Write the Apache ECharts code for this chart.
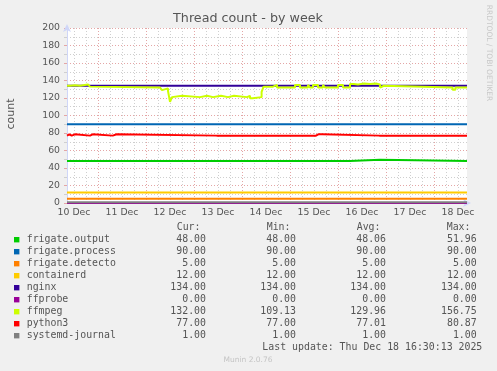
<!DOCTYPE html>
<html><head><meta charset="utf-8">
<script src="https://cdn.jsdelivr.net/npm/echarts@6/dist/echarts.min.js"></script>
<style>html,body{margin:0;padding:0;background:#F0F0F0;overflow:hidden}#c{width:497px;height:371px}</style>
</head><body><div id="c"></div>
<script>
// x values are hours since 10 Dec 00:00
const xMin = 8.5, xMax = 208.5;
const xTickHours = [12, 36, 60, 84, 108, 132, 156, 180, 204];
const xTickLabels = ['10 Dec', '11 Dec', '12 Dec', '13 Dec', '14 Dec', '15 Dec', '16 Dec', '17 Dec', '18 Dec'];

const seriesNames = ['frigate.output', 'frigate.process', 'frigate.detecto', 'containerd', 'nginx', 'ffprobe', 'ffmpeg', 'python3', 'systemd-journal'];
const seriesColors = ['#00CC00', '#0066B3', '#FF8000', '#FFCC00', '#330099', '#990099', '#CCFF00', '#FF0000', '#808080'];

// each pair: [hour where the value starts, value]
const frigateOutput = [[8.5, 48], [12.5, 49.5], [13.5, 48], [15.5, 49.5], [16.5, 48], [150, 49.5], [165, 48], [208.5, 48]];
const frigateProcess = [[8.5, 90], [208.5, 90]];
const frigateDetecto = [[8.5, 5], [208.5, 5]];
const containerd = [[8.5, 12], [208.5, 12]];
const nginx = [[8.5, 134], [208.5, 134]];
const ffprobe = [[8.5, 0], [208.5, 0]];
const ffmpeg = [[8.5, 134], [10, 133.5], [11, 134.5], [12.5, 136.5], [13.5, 134], [15, 135.5], [19, 134], [20, 133], [21, 132],
  [55, 131], [56, 129], [57, 131], [59, 128], [60, 115.5], [61, 121], [62, 122.5], [66, 121], [75, 122.5], [78.5, 121],
  [81.5, 122.5], [85.5, 121], [89, 122.5], [92, 121], [98.5, 122.5], [100, 119.8], [101.3, 121], [105.8, 127], [106.8, 133],
  [111.5, 135], [113.5, 132], [122.5, 135], [125, 132], [129, 135], [130, 132], [131.5, 135], [134, 132], [136.5, 135], [137.5, 132],
  [144, 135], [146.5, 132], [150, 136], [152, 135.5], [154, 136.5], [157, 136], [160, 136.5], [163, 135.5], [165, 132],
  [166, 134], [167, 132], [201.3, 129.5], [202.7, 132], [208.5, 132]];
const python3 = [[8.5, 77], [8.85, 78.5], [9.65, 77], [10.85, 78.5], [12.5, 77], [20, 78.5], [21.35, 77], [31.35, 78.5], [33.35, 77],
  [83.35, 78.5], [84.35, 77], [133, 78.5], [134.15, 77], [135, 78.5], [136.15, 77], [164.65, 78.5], [165.5, 77],
  [191.65, 78.5], [192.5, 77], [197.15, 78.5], [198, 77], [208.5, 77]];
const systemdJournal = [[8.5, 1], [208.5, 1]];
const seriesData = [frigateOutput, frigateProcess, frigateDetecto, containerd, nginx, ffprobe, ffmpeg, python3, systemdJournal];

const curValues = ['48.00', '90.00', '5.00', '12.00', '134.00', '0.00', '132.00', '77.00', '1.00'];
const minValues = ['48.00', '90.00', '5.00', '12.00', '134.00', '0.00', '109.13', '77.00', '1.00'];
const avgValues = ['48.06', '90.00', '5.00', '12.00', '134.00', '0.00', '129.96', '77.01', '1.00'];
const maxValues = ['51.96', '90.00', '5.00', '12.00', '134.00', '0.00', '156.75', '80.87', '1.00'];
const colHeaders = ['Cur:', 'Min:', 'Avg:', 'Max:'];
const lastUpdate = 'Last update: Thu Dec 18 16:30:13 2025';

// hold each value until the next change (rrdtool step look)
function holdSteps(pairs) {
  const out = [];
  for (let i = 0; i < pairs.length; i++) {
    out.push([pairs[i][0], pairs[i][1]]);
    if (i + 1 < pairs.length && pairs[i + 1][1] !== pairs[i][1]) out.push([pairs[i + 1][0], pairs[i][1]]);
  }
  return out;
}

const MINOR = '#cfcfcf', MAJOR = '#e4a6a6', AXIS = '#CFD6F8', TXT = '#555555';
const SANS = '"DejaVu Sans"', MONO = '"DejaVu Sans Mono"';
const PX_PER_HOUR = 2; // 400 px for 200 h

const chart = echarts.init(document.getElementById('c'), null, {renderer: 'canvas'});

function txt(x, y, text, opts) {
  opts = opts || {};
  return {
    type: 'text', x: x, y: y, rotation: opts.rotation || 0, silent: true, z: 100,
    style: {
      text: text, fill: opts.fill || TXT,
      font: (opts.size || 9.9) + 'px ' + (opts.family || MONO),
      align: opts.align || 'left', textAlign: opts.align || 'left',
      verticalAlign: 'middle', textVerticalAlign: 'middle'
    }
  };
}

const graphics = [];
graphics.push(txt(248, 19, 'Thread count - by week', {size: 12.7, family: SANS, align: 'center', fill: '#555'}));
graphics.push(txt(11, 114, 'count', {size: 11, family: SANS, align: 'center', rotation: Math.PI / 2, fill: '#555'}));
graphics.push(txt(488.5, 53, 'RRDTOOL / TOBI OETIKER', {size: 7.5, family: SANS, align: 'center', rotation: -Math.PI / 2, fill: '#c8c8c8'}));
const headerX = [176.7, 266.7, 356.7, 446.7];
colHeaders.forEach((h, i) => graphics.push(txt(headerX[i], 227.7, h, {})));
const valRight = [206, 296, 386, 476.7];
const cols = [curValues, minValues, avgValues, maxValues];
seriesNames.forEach((name, i) => {
  const y = 239.7 + 12 * i;
  graphics.push({type: 'rect', silent: true, z: 100, shape: {x: 14, y: y - 2.7, width: 5.4, height: 5.4}, style: {fill: seriesColors[i]}});
  graphics.push(txt(26.7, y, name, {}));
  cols.forEach((c, j) => graphics.push(txt(valRight[j], y, c[i], {align: 'right'})));
});
graphics.push(txt(482.3, 347.7, lastUpdate, {align: 'right'}));
graphics.push(txt(248, 360.3, 'Munin 2.0.76', {size: 7.5, family: SANS, align: 'center', fill: '#c4c4c4'}));

// main plot grid
const G0 = {left: 67, top: 28, width: 400, height: 175};
// helper grids sharing the same hour->pixel mapping, used only for the vertical grid lines
const minorMin = 6, minorMax = 210, majorMin = 0, majorMax = 216;
const G1 = {left: G0.left - (xMin - minorMin) * PX_PER_HOUR, top: 28, width: (minorMax - minorMin) * PX_PER_HOUR, height: 175};
const G2 = {left: G0.left - (xMin - majorMin) * PX_PER_HOUR, top: 28, width: (majorMax - majorMin) * PX_PER_HOUR, height: 175};

const hiddenY = gi => ({type: 'value', gridIndex: gi, min: 0, max: 200, show: false});

const option = {
  animation: false,
  backgroundColor: '#F0F0F0',
  grid: [
    Object.assign({show: true, backgroundColor: '#FFFFFF', borderWidth: 0}, G0),
    Object.assign({show: false}, G1),
    Object.assign({show: false}, G2)
  ],
  xAxis: [
    {
      type: 'value', gridIndex: 0, min: xMin, max: xMax, position: 'bottom',
      axisLine: {show: true, lineStyle: {color: AXIS, width: 1}, symbol: ['none', 'arrow'], symbolSize: [6, 8], symbolOffset: [0, 4]},
      axisTick: {show: false},
      splitLine: {show: false},
      axisLabel: {show: true, customValues: xTickHours, color: TXT, fontFamily: 'DejaVu Sans', fontSize: 9.3, margin: 5,
        formatter: v => xTickLabels[xTickHours.indexOf(Math.round(v))] || ''}
    },
    {
      type: 'value', gridIndex: 1, min: minorMin, max: minorMax, interval: 6, position: 'bottom',
      axisLine: {show: false}, axisLabel: {show: false},
      axisTick: {show: false},
      splitLine: {show: true, showMinLine: false, showMaxLine: false, lineStyle: {color: MINOR, type: [1, 2], width: 1}}
    },
    {
      type: 'value', gridIndex: 2, min: majorMin, max: majorMax, interval: 24, position: 'bottom',
      axisLine: {show: false}, axisLabel: {show: false},
      axisTick: {show: false},
      splitLine: {show: true, showMinLine: false, showMaxLine: false, lineStyle: {color: MAJOR, type: [1, 2], width: 1}}
    }
  ],
  yAxis: [
    {
      type: 'value', gridIndex: 0, min: 0, max: 200, interval: 10, position: 'left',
      axisLine: {show: false},
      axisTick: {show: true, length: 3, lineStyle: {color: MINOR}},
      splitLine: {show: true, lineStyle: {color: MINOR, type: [1, 2], width: 1}},
      axisLabel: {show: false}
    },
    {
      type: 'value', gridIndex: 0, min: 0, max: 200, interval: 20, position: 'left',
      axisLine: {show: true, lineStyle: {color: AXIS, width: 1}, symbol: ['none', 'arrow'], symbolSize: [6, 8], symbolOffset: [0, 4]},
      axisTick: {show: true, length: 3, lineStyle: {color: MAJOR}},
      splitLine: {show: true, lineStyle: {color: MAJOR, type: [1, 2], width: 1}},
      axisLabel: {color: TXT, fontFamily: 'DejaVu Sans', fontSize: 9.3, margin: 7}
    },
    hiddenY(1),
    hiddenY(2)
  ],
  series: seriesNames.map((name, i) => ({
    name: name, type: 'line', xAxisIndex: 0, yAxisIndex: 1,
    data: holdSteps(seriesData[i]), showSymbol: false, symbol: 'none', silent: true, smooth: false,
    lineStyle: {color: seriesColors[i], width: 2}, itemStyle: {color: seriesColors[i]}
  })),
  graphic: {elements: graphics}
};
chart.setOption(option);
</script></body></html>
